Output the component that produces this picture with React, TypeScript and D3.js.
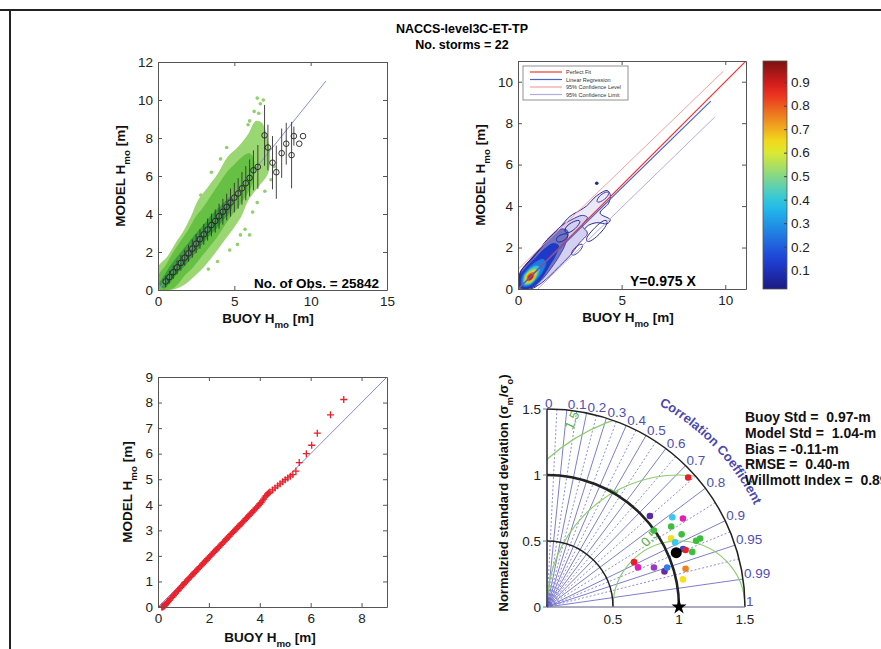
import React, { useEffect, useRef } from 'react';
import * as d3 from 'd3';

type Pt = [number, number];

const FONT = 'Liberation Sans, Arial, Helvetica, sans-serif';

// ---- figure text ----
const figTitle = 'NACCS-level3C-ET-TP';
const figSubtitle = 'No. storms = 22';

// ---- panel 1: scatter with bin means ----
const scatterTicksX = [0, 5, 10, 15];
const scatterTicksY = [0, 2, 4, 6, 8, 10, 12];
const obsCount = 25842;
const cloudOuter: Pt[] = [
  [0, 0], [0, 1.2], [0.6, 1.75], [1.25, 2.6], [1.7, 3.15], [2.15, 3.85], [2.6, 4.7], [3.25, 5.4],
  [3.9, 6.1], [4.55, 7.0], [5.2, 7.5], [5.9, 8.2], [6.4, 8.9], [6.8, 8.8], [7.2, 7.9], [7.35, 7.0],
  [7.2, 6.1], [6.55, 5.4], [5.9, 4.7], [5.45, 3.85], [5.0, 3.3], [4.35, 2.6], [3.7, 1.9], [3.0, 1.2],
  [2.35, 0.7], [1.7, 0.26], [1.0, 0.02],
];
const cloudMid: Pt[] = [
  [0.05, 0.05], [0.05, 0.8], [0.5, 1.3], [1, 2], [1.5, 2.6], [2, 3.2], [2.5, 3.9], [3, 4.4], [3.5, 5.0],
  [4, 5.6], [4.5, 6.2], [5, 6.6], [5.5, 7.0], [6, 7.2], [6.3, 6.8], [6.2, 5.6], [5.8, 5.0], [5.3, 4.4],
  [4.8, 3.9], [4.3, 3.3], [3.8, 2.7], [3.3, 2.2], [2.8, 1.7], [2.3, 1.2], [1.8, 0.8], [1.3, 0.3], [0.9, 0.05],
];
const cloudCore: Pt[] = [
  [0.1, 0.3], [0.5, 0.9], [1, 1.5], [1.5, 2.0], [2, 2.5], [2.5, 3.0], [3, 3.45], [3.5, 3.95], [4, 4.35],
  [4.5, 4.75], [4.8, 4.9], [4.8, 4.2], [4.3, 3.7], [3.8, 3.2], [3.3, 2.8], [2.8, 2.3], [2.3, 1.8],
  [1.8, 1.3], [1.3, 0.9], [0.8, 0.4], [0.4, 0.08],
];
const cloudStray: Pt[] = [
  [6.5, 10.1], [6.7, 9.8], [6.9, 10.0], [6.3, 9.4], [6.6, 9.3], [5.7, 3.2], [6.0, 2.9], [5.2, 2.4],
  [6.5, 4.6], [7.4, 5.8], [4.7, 2.1], [3.9, 1.5], [5.9, 8.7], [4.5, 7.5], [3.5, 6.2], [2.8, 5.0],
  [7.6, 6.5], [5.4, 2.9], [6.2, 4.1], [4.1, 6.9], [7.0, 5.2], [3.3, 1.1], [6.0, 8.9],
];
const binBuoy = [
  0.5, 0.75, 1.0, 1.25, 1.5, 1.75, 2.0, 2.25, 2.5, 2.75, 3.0, 3.25, 3.5, 3.75, 4.0, 4.25, 4.5, 4.75,
  5.0, 5.25, 5.5, 5.75, 6.0, 6.25, 6.54, 6.98, 7.2, 7.5, 7.75, 8.1, 8.4, 8.75, 8.9, 9.25, 9.5,
];
const binModel = [
  0.45, 0.68, 0.94, 1.19, 1.43, 1.7, 1.93, 2.18, 2.44, 2.68, 2.93, 3.18, 3.42, 3.63, 3.88, 4.12, 4.37, 4.6,
  4.86, 5.08, 5.35, 5.62, 5.9, 6.3, 6.48, 8.14, 7.5, 6.7, 6.2, 7.2, 7.7, 7.1, 8.1, 7.7, 8.1,
];
const binStd = [
  0.3, 0.33, 0.35, 0.37, 0.41, 0.42, 0.44, 0.48, 0.5, 0.51, 0.55, 0.58, 0.6, 0.61, 0.66, 0.68, 0.7, 0.74,
  0.78, 0.8, 0.86, 0.9, 0.97, 1.05, 1.15, 1.6, 1.2, 1.4, 1.4, 1.3, 1.1, 1.75, 0.5, 0, 0,
];

// ---- panel 2: density contours ----
const densTicksX = [0, 5, 10];
const densTicksY = [0, 2, 4, 6, 8, 10];
const densEnvelope: Pt[][] = [
  [[0.1, 0], [0.08, 0.4], [0.1, 0.77], [0.43, 1.25], [0.9, 1.73], [1.4, 2.38], [2.04, 3.0], [2.5, 3.5],
    [3.0, 3.8], [3.3, 4.0], [3.8, 4.5], [4.3, 4.75], [4.45, 4.55], [4.37, 4.14], [3.96, 3.66], [4.45, 3.34],
    [4.3, 3.15], [3.8, 3.2], [3.3, 3.0], [3.0, 2.38], [2.5, 1.73], [2.04, 1.25], [1.56, 0.77], [1.08, 0.29], [0.75, 0.05]],
  [[0.15, 0.1], [0.15, 0.85], [0.6, 1.35], [1.1, 1.95], [1.6, 2.55], [2.1, 3.05], [2.6, 3.35], [3.1, 3.55],
    [3.35, 3.45], [3.1, 3.05], [3.35, 2.7], [2.95, 2.2], [2.5, 1.6], [2.0, 1.1], [1.5, 0.6], [1.0, 0.2], [0.5, 0.04]],
];
const densIslands: Pt[][] = [
  [[3.35, 2.2], [3.8, 2.5], [4.25, 3.0], [4.35, 3.35], [4.05, 3.3], [3.6, 2.85], [3.25, 2.45]],
  [[3.75, 4.1], [4.2, 4.3], [4.45, 4.65], [4.25, 4.72], [3.85, 4.45]],
  [[2.3, 2.6], [2.8, 2.9], [3.1, 3.35], [2.7, 3.3], [2.2, 2.95]],
  [[2.6, 1.55], [3.0, 1.8], [3.2, 2.2], [2.9, 2.15], [2.55, 1.8]],
  [[1.9, 2.2], [2.3, 2.35], [2.5, 2.7], [2.1, 2.65], [1.8, 2.45]],
];
const densLevels = [0.06, 0.12, 0.25, 0.4, 0.55, 0.65, 0.78, 0.9];
const densFills: Pt[][] = [
  [[0.1, 0.05], [0.1, 0.8], [0.5, 1.3], [1.0, 1.9], [1.6, 2.55], [2.1, 2.9], [2.4, 2.8], [2.3, 2.2],
    [2.0, 1.6], [1.6, 1.0], [1.2, 0.5], [0.8, 0.15], [0.4, 0.02]],
  [[0.12, 0.08], [0.12, 0.65], [0.4, 1.05], [0.8, 1.45], [1.3, 1.95], [1.7, 2.2], [1.95, 2.1], [1.8, 1.6],
    [1.5, 1.1], [1.2, 0.6], [0.9, 0.25], [0.5, 0.04]],
  [[0.2, 0.15], [0.2, 0.6], [0.45, 0.95], [0.85, 1.3], [1.2, 1.45], [1.35, 1.25], [1.2, 0.85], [0.9, 0.45], [0.55, 0.15]],
  [[0.28, 0.22], [0.28, 0.6], [0.5, 0.9], [0.85, 1.12], [1.05, 1.05], [1.0, 0.75], [0.8, 0.42], [0.55, 0.22]],
  [[0.33, 0.28], [0.33, 0.6], [0.52, 0.85], [0.82, 0.98], [0.92, 0.85], [0.85, 0.58], [0.62, 0.3]],
  [[0.4, 0.35], [0.4, 0.6], [0.55, 0.8], [0.78, 0.88], [0.84, 0.7], [0.7, 0.45], [0.52, 0.34]],
  [[0.45, 0.4], [0.46, 0.62], [0.6, 0.76], [0.76, 0.78], [0.76, 0.6], [0.62, 0.43]],
  [[0.5, 0.45], [0.52, 0.62], [0.63, 0.7], [0.72, 0.67], [0.68, 0.52], [0.58, 0.45]],
];
const densStray: Pt[] = [[3.8, 5.1]];
const regSlope = 0.975;
const regEndX = 9.3;
const perfectFit: Pt[] = [[0, 0], [11, 11]];
const confUpper: Pt[] = [[0, 0.95], [9.9, 10.5]];
const confLower: Pt[] = [[0.95, 0], [9.5, 8.3]];
const legendLabels = ['Perfect Fit', 'Linear Regression', '95% Confidence Level', '95% Confidence Limit'];
const cbDomain = [0.02, 0.99];
const cbTicks = [0.1, 0.2, 0.3, 0.4, 0.5, 0.6, 0.7, 0.8, 0.9];

// ---- panel 3: quantile-quantile ----
const qqTicksX = [0, 2, 4, 6, 8];
const qqTicksY = [0, 1, 2, 3, 4, 5, 6, 7, 8, 9];
const qqPairs: Pt[] = [
  [0.15, 0.0], [0.18, 0.0], [0.2, 0.02], [0.23, 0.03], [0.25, 0.05], [0.28, 0.07], [0.3, 0.1], [0.33, 0.13],
  [0.35, 0.16], [0.38, 0.19], [0.4, 0.22], [0.45, 0.27], [0.5, 0.33], [0.55, 0.38], [0.6, 0.44], [0.65, 0.5],
  [0.7, 0.55], [0.75, 0.61], [0.8, 0.66], [0.85, 0.72], [0.9, 0.77], [0.95, 0.83], [1.0, 0.88], [1.05, 0.94],
  [1.1, 0.99], [1.15, 1.05], [1.2, 1.1], [1.25, 1.15], [1.3, 1.2], [1.35, 1.26], [1.4, 1.31], [1.45, 1.36],
  [1.5, 1.41], [1.55, 1.47], [1.6, 1.52], [1.65, 1.57], [1.7, 1.62], [1.75, 1.68], [1.8, 1.73], [1.85, 1.78],
  [1.9, 1.83], [1.95, 1.89], [2.0, 1.94], [2.05, 1.99], [2.1, 2.04], [2.15, 2.1], [2.2, 2.15], [2.25, 2.2],
  [2.3, 2.25], [2.35, 2.3], [2.4, 2.35], [2.45, 2.41], [2.5, 2.46], [2.55, 2.51], [2.6, 2.56], [2.65, 2.62],
  [2.7, 2.67], [2.75, 2.72], [2.8, 2.77], [2.85, 2.83], [2.9, 2.88], [2.95, 2.93], [3.0, 2.98], [3.05, 3.03],
  [3.1, 3.08], [3.15, 3.14], [3.2, 3.19], [3.25, 3.24], [3.3, 3.29], [3.35, 3.34], [3.4, 3.39], [3.45, 3.45],
  [3.5, 3.5], [3.55, 3.55], [3.6, 3.6], [3.65, 3.66], [3.7, 3.71], [3.75, 3.76], [3.8, 3.81], [3.85, 3.87],
  [3.9, 3.92], [3.95, 3.97], [4.0, 4.03], [4.05, 4.09], [4.1, 4.15], [4.15, 4.22], [4.2, 4.3], [4.25, 4.36],
  [4.3, 4.42], [4.35, 4.46], [4.4, 4.5], [4.5, 4.58], [4.6, 4.66], [4.7, 4.74], [4.8, 4.82], [4.9, 4.9],
  [5.0, 4.98], [5.1, 5.05], [5.2, 5.12], [5.3, 5.18], [5.42, 5.32], [5.55, 5.65], [5.83, 6.0], [6.04, 6.33],
  [6.26, 6.8], [6.78, 7.52], [7.3, 8.12],
];

// ---- panel 4: Taylor diagram ----
const stationStd = [
  1.451, 1.041, 1.168, 1.229, 1.121, 0.996, 1.159, 1.271, 1.236, 1.074, 1.087, 1.12, 1.135, 1.177,
  0.742, 0.752, 0.864, 0.93, 0.958, 1.089, 1.051,
];
const stationCorr = [
  0.737, 0.749, 0.813, 0.838, 0.839, 0.813, 0.88, 0.913, 0.914, 0.875, 0.893, 0.92, 0.925, 0.935,
  0.889, 0.917, 0.938, 0.957, 0.95, 0.964, 0.98,
];
const stationColors = [
  '#e8202a', '#5a2aa0', '#38c8f0', '#e020b0', '#3cbf3c', '#3cbf3c', '#3cbf3c', '#3cbf3c', '#3cbf3c',
  '#f0e020', '#38c8f0', '#2050e0', '#e8202a', '#3cbf3c', '#e8202a', '#e020b0', '#9a3ac0', '#6a2aa0',
  '#2f7fe8', '#f08020', '#f8e020',
];
const allStd = 1.062;
const allCorr = 0.922;
const corrLabels = [0, 0.1, 0.2, 0.3, 0.4, 0.5, 0.6, 0.7, 0.8, 0.9, 0.95, 0.99, 1];
const corrMinor = [0.05, 0.15, 0.25, 0.35, 0.45, 0.55, 0.65, 0.75, 0.85, 0.925, 0.97];
const stdArcs = [0.5, 1, 1.5];
const rmsArcs = [0.5, 1, 1.5];
const taylorTicks = [0, 0.5, 1, 1.5];
const statsLines = [
  'Buoy Std =  0.97-m',
  'Model Std =  1.04-m',
  'Bias = -0.11-m',
  'RMSE =  0.40-m',
  'Willmott Index =  0.89',
];

const jet = d3
  .scaleLinear<string>()
  .domain([0, 0.125, 0.375, 0.625, 0.875, 1])
  .range(['#1c1a80', '#1f3ed8', '#22c4ec', '#f2ec1c', '#ea2020', '#7c1212']);
const cbColor = (v: number) => jet((v - cbDomain[0]) / (cbDomain[1] - cbDomain[0]));

function drawBox(g: any, x: any, y: any, xt: number[], yt: number[]) {
  const [x0, x1] = x.range();
  const [y1, y0] = y.range();
  const ax = g.append('g');
  ax.append('g').attr('transform', `translate(0,${y1})`)
    .call(d3.axisBottom(x).tickValues(xt).tickSizeInner(-4).tickSizeOuter(0).tickPadding(6).tickFormat(d3.format('d')));
  ax.append('g').attr('transform', `translate(0,${y0})`)
    .call(d3.axisTop(x).tickValues(xt).tickSizeInner(-4).tickSizeOuter(0))
    .selectAll('text').remove();
  ax.append('g').attr('transform', `translate(${x0},0)`)
    .call(d3.axisLeft(y).tickValues(yt).tickSizeInner(-4).tickSizeOuter(0).tickPadding(5).tickFormat(d3.format('d')));
  ax.append('g').attr('transform', `translate(${x1},0)`)
    .call(d3.axisRight(y).tickValues(yt).tickSizeInner(-4).tickSizeOuter(0))
    .selectAll('text').remove();
  ax.selectAll('.domain').attr('stroke', '#555');
  ax.selectAll('.tick line').attr('stroke', '#555');
  ax.selectAll('text').attr('font-size', 13.5).attr('fill', '#222').attr('font-family', FONT);
}

// parts: [text, isSubscript]
function label(g: any, x: number, y: number, rot: number, parts: [string, boolean][], size = 13.5) {
  const t = g.append('text')
    .attr('transform', `translate(${x},${y}) rotate(${rot})`)
    .attr('text-anchor', 'middle')
    .attr('font-weight', 'bold')
    .attr('font-size', size)
    .attr('font-family', FONT)
    .attr('fill', '#111');
  let down = false;
  parts.forEach(([s, sub]) => {
    const sp = t.append('tspan').text(s);
    if (sub && !down) { sp.attr('dy', size * 0.35).attr('font-size', size * 0.72); down = true; }
    else if (!sub && down) { sp.attr('dy', -size * 0.35); down = false; }
    else if (sub) sp.attr('font-size', size * 0.72);
  });
}

const hmoLabel = (pre: string): [string, boolean][] => [[pre + ' H', false], ['mo', true], [' [m]', false]];

const App = () => {
  const ref = useRef<SVGSVGElement>(null);

  useEffect(() => {
    const svg = d3.select(ref.current);
    svg.selectAll('*').remove();
    const defs = svg.append('defs');

    // frame of the scanned page
    svg.append('line').attr('x1', 0).attr('x2', 881).attr('y1', 10).attr('y2', 10).attr('stroke', '#222').attr('stroke-width', 2);
    svg.append('line').attr('x1', 10).attr('x2', 10).attr('y1', 10).attr('y2', 649).attr('stroke', '#222').attr('stroke-width', 2);

    svg.append('text').attr('x', 462).attr('y', 33).attr('text-anchor', 'middle').attr('font-family', FONT)
      .attr('font-weight', 'bold').attr('font-size', 12.5).text(figTitle);
    svg.append('text').attr('x', 462).attr('y', 49).attr('text-anchor', 'middle').attr('font-family', FONT)
      .attr('font-weight', 'bold').attr('font-size', 12.5).text(figSubtitle);

    // ---------- panel 1 ----------
    {
      const x = d3.scaleLinear().domain([0, 15]).range([158, 387]);
      const y = d3.scaleLinear().domain([0, 12]).range([290, 62]);
      const g = svg.append('g');
      defs.append('clipPath').attr('id', 'clip1').append('rect').attr('x', 158).attr('y', 62).attr('width', 229).attr('height', 228);
      const area = g.append('g').attr('clip-path', 'url(#clip1)');
      const blob = d3.line<Pt>().x((d) => x(d[0])).y((d) => y(d[1])).curve(d3.curveCatmullRomClosed.alpha(0.5));
      area.selectAll('.stray').data(cloudStray).enter().append('circle')
        .attr('cx', (d) => x(d[0])).attr('cy', (d) => y(d[1])).attr('r', 1.8).attr('fill', '#8fd16a');
      area.append('path').attr('d', blob(cloudOuter)).attr('fill', '#9ad672');
      area.append('path').attr('d', blob(cloudMid)).attr('fill', '#66c043');
      area.append('path').attr('d', blob(cloudCore)).attr('fill', '#3b9c3a');
      area.append('line').attr('x1', x(0)).attr('y1', y(0)).attr('x2', x(11)).attr('y2', y(11))
        .attr('stroke', '#8c8cd8').attr('stroke-width', 1);
      const bins = binBuoy.map((b, i) => ({ b, m: binModel[i], s: binStd[i] }));
      area.selectAll('.err').data(bins).enter().append('line')
        .attr('x1', (d) => x(d.b)).attr('x2', (d) => x(d.b))
        .attr('y1', (d) => y(d.m - d.s)).attr('y2', (d) => y(d.m + d.s))
        .attr('stroke', '#333').attr('stroke-width', 0.9);
      area.selectAll('.bin').data(bins).enter().append('circle')
        .attr('cx', (d) => x(d.b)).attr('cy', (d) => y(d.m)).attr('r', 2.8)
        .attr('fill', 'none').attr('stroke', '#222').attr('stroke-width', 0.9);
      drawBox(g, x, y, scatterTicksX, scatterTicksY);
      g.append('text').attr('x', 379).attr('y', 288).attr('text-anchor', 'end').attr('font-family', FONT)
        .attr('font-weight', 'bold').attr('font-size', 13.5).text(`No. of Obs. = ${obsCount}`);
      label(g, 125, 176, -90, hmoLabel('MODEL'));
      label(g, 268, 323, 0, hmoLabel('BUOY'));
    }

    // ---------- panel 2 ----------
    {
      const x = d3.scaleLinear().domain([0, 11]).range([518, 746]);
      const y = d3.scaleLinear().domain([0, 11]).range([289, 61]);
      const g = svg.append('g');
      defs.append('clipPath').attr('id', 'clip2').append('rect').attr('x', 518).attr('y', 61).attr('width', 228).attr('height', 228);
      const area = g.append('g').attr('clip-path', 'url(#clip2)');
      const blob = d3.line<Pt>().x((d) => x(d[0])).y((d) => y(d[1])).curve(d3.curveCatmullRomClosed.alpha(0.5));
      const loop = d3.line<Pt>().x((d) => x(d[0])).y((d) => y(d[1])).curve(d3.curveBasisClosed);
      const seg = d3.line<Pt>().x((d) => x(d[0])).y((d) => y(d[1]));
      const envFill = ['#ebe9f8', '#d3d0f0'];
      const envStroke = ['#2c2a92', '#4a36a8'];
      densEnvelope.forEach((poly, i) => {
        area.append('path').attr('d', blob(poly)).attr('fill', envFill[i])
          .attr('stroke', envStroke[i]).attr('stroke-width', 1);
      });
      densIslands.forEach((poly, i) => {
        area.append('path').attr('d', loop(poly)).attr('fill', 'none')
          .attr('stroke', i % 2 ? '#4a36a8' : '#2c2a92').attr('stroke-width', 1);
      });
      densFills.forEach((poly, i) => {
        area.append('path').attr('d', blob(poly)).attr('fill', cbColor(densLevels[i]))
          .attr('fill-opacity', i === 0 ? 0.55 : 1)
          .attr('stroke', d3.color(cbColor(densLevels[i]))!.darker(0.4).toString()).attr('stroke-width', 0.6);
      });
      area.selectAll('.ds').data(densStray).enter().append('circle')
        .attr('cx', (d) => x(d[0])).attr('cy', (d) => y(d[1])).attr('r', 1.8).attr('fill', '#2c2a92');
      area.append('path').attr('d', seg(confUpper)).attr('stroke', '#f2a2a2').attr('fill', 'none');
      area.append('path').attr('d', seg(confLower)).attr('stroke', '#b4aae2').attr('fill', 'none');
      area.append('path').attr('d', seg(perfectFit)).attr('stroke', '#ee3434').attr('stroke-width', 1.2).attr('fill', 'none');
      area.append('path').attr('d', seg([[0, 0], [regEndX, regSlope * regEndX]])).attr('stroke', '#4a62cc')
        .attr('stroke-width', 1.2).attr('fill', 'none');
      drawBox(g, x, y, densTicksX, densTicksY);

      // legend
      const lg = g.append('g');
      lg.append('rect').attr('x', 523).attr('y', 66).attr('width', 105).attr('height', 34)
        .attr('fill', '#fff').attr('stroke', '#777').attr('stroke-width', 0.8);
      const legColors = ['#ee3434', '#4a62cc', '#f2a2a2', '#b4aae2'];
      legendLabels.forEach((s, i) => {
        const ly = 72 + i * 7.5;
        lg.append('line').attr('x1', 530).attr('x2', 562).attr('y1', ly).attr('y2', ly).attr('stroke', legColors[i]).attr('stroke-width', 1.2);
        lg.append('text').attr('x', 566).attr('y', ly + 2).attr('font-size', 5.5).attr('font-family', FONT).attr('fill', '#333').text(s);
      });

      g.append('text').attr('x', 630).attr('y', 286).attr('font-family', FONT)
        .attr('font-weight', 'bold').attr('font-size', 14).text(`Y=${regSlope} X`);
      label(g, 485, 175, -90, hmoLabel('MODEL'));
      label(g, 628, 322, 0, hmoLabel('BUOY'));

      // colorbar
      const cy = d3.scaleLinear().domain(cbDomain).range([289, 61]);
      const grad = defs.append('linearGradient').attr('id', 'jetgrad').attr('x1', 0).attr('x2', 0).attr('y1', 1).attr('y2', 0);
      d3.range(0, 1.0001, 0.05).forEach((t) => {
        grad.append('stop').attr('offset', t).attr('stop-color', jet(t));
      });
      g.append('rect').attr('x', 763).attr('y', 61).attr('width', 24).attr('height', 228)
        .attr('fill', 'url(#jetgrad)').attr('stroke', '#555').attr('stroke-width', 0.8);
      const cax = g.append('g').attr('transform', 'translate(787,0)')
        .call(d3.axisRight(cy).tickValues(cbTicks).tickSizeInner(-3).tickSizeOuter(0).tickPadding(4).tickFormat(d3.format('.1f')));
      cax.select('.domain').remove();
      cax.selectAll('.tick line').attr('stroke', '#444');
      cax.selectAll('text').attr('font-size', 13.5).attr('fill', '#222').attr('font-family', FONT);
    }

    // ---------- panel 3 ----------
    {
      const x = d3.scaleLinear().domain([0, 9]).range([158, 387]);
      const y = d3.scaleLinear().domain([0, 9]).range([607, 377]);
      const g = svg.append('g');
      defs.append('clipPath').attr('id', 'clip3').append('rect').attr('x', 154).attr('y', 377).attr('width', 233).attr('height', 234);
      const area = g.append('g').attr('clip-path', 'url(#clip3)');
      area.append('line').attr('x1', x(0)).attr('y1', y(0)).attr('x2', x(9)).attr('y2', y(9))
        .attr('stroke', '#8888d6').attr('stroke-width', 1);
      area.selectAll('.qq').data(qqPairs).enter().append('path')
        .attr('d', (d) => `M${x(d[0]) - 3.5},${y(d[1])}h7M${x(d[0])},${y(d[1]) - 3.5}v7`)
        .attr('stroke', '#e8202a').attr('stroke-width', 1.3);
      drawBox(g, x, y, qqTicksX, qqTicksY);
      label(g, 132, 492, -90, hmoLabel('MODEL'));
      label(g, 270, 642, 0, hmoLabel('BUOY'));
    }

    // ---------- panel 4: Taylor diagram ----------
    {
      const ox = 547, oy = 607;
      const r = d3.scaleLinear().domain([0, 1.5]).range([0, 198]);
      const px = (s: number, c: number) => ox + r(s) * c;
      const py = (s: number, c: number) => oy - r(s) * Math.sqrt(Math.max(0, 1 - c * c));
      const g = svg.append('g');
      const lineCol = '#5e5cc0';

      corrMinor.forEach((c) => {
        g.append('line').attr('x1', ox).attr('y1', oy).attr('x2', px(1.5, c)).attr('y2', py(1.5, c))
          .attr('stroke', lineCol).attr('stroke-width', 0.7).attr('stroke-dasharray', '2,2');
      });
      corrLabels.forEach((c) => {
        g.append('line').attr('x1', ox).attr('y1', oy).attr('x2', px(1.5, c)).attr('y2', py(1.5, c))
          .attr('stroke', lineCol).attr('stroke-width', 0.8);
        g.append('text').attr('x', px(1.5, c) + (c === 0 ? -2 : 1)).attr('y', py(1.5, c) - 1)
          .attr('font-family', FONT).attr('font-size', 13.5).attr('fill', '#5050b4')
          .text(String(c));
      });

      // RMS arcs, clipped to the quarter disc
      defs.append('clipPath').attr('id', 'clipTaylor').append('path')
        .attr('d', `M${ox},${oy}L${ox + r(1.5)},${oy}A${r(1.5)},${r(1.5)} 0 0 0 ${ox},${oy - r(1.5)}Z`);
      const rms = g.append('g').attr('clip-path', 'url(#clipTaylor)');
      const cx = ox + r(1);
      rmsArcs.forEach((R) => {
        rms.append('path').attr('d', `M${cx - r(R)},${oy}A${r(R)},${r(R)} 0 0 1 ${cx + r(R)},${oy}`)
          .attr('fill', 'none').attr('stroke', '#8ccc6c').attr('stroke-width', 1.2);
      });
      const rmsLabelPos: [number, number, number][] = [[0.8, 0.5, -45], [0.53, 0.86, -60], [0.22, 1.4, -65]];
      rmsArcs.forEach((R, i) => {
        const [lx, ly, rot] = rmsLabelPos[i];
        g.append('text').attr('transform', `translate(${ox + r(lx)},${oy - r(ly)}) rotate(${rot})`)
          .attr('text-anchor', 'middle').attr('font-family', FONT).attr('font-size', 13).attr('fill', '#5cb04a')
          .text(String(R));
      });

      stdArcs.forEach((s) => {
        g.append('path').attr('d', `M${ox},${oy - r(s)}A${r(s)},${r(s)} 0 0 1 ${ox + r(s)},${oy}`)
          .attr('fill', 'none').attr('stroke', '#222').attr('stroke-width', s === 1 ? 2.6 : 1.5);
      });
      g.append('line').attr('x1', ox).attr('y1', oy).attr('x2', ox + r(1.5)).attr('y2', oy).attr('stroke', '#999');
      g.append('line').attr('x1', ox).attr('y1', oy).attr('x2', ox).attr('y2', oy - r(1.5)).attr('stroke', '#222').attr('stroke-width', 1.3);

      taylorTicks.forEach((t) => {
        g.append('line').attr('x1', ox - 4).attr('x2', ox).attr('y1', oy - r(t)).attr('y2', oy - r(t)).attr('stroke', '#777');
        g.append('text').attr('x', ox - 6).attr('y', oy - r(t)).attr('dy', '0.35em').attr('text-anchor', 'end')
          .attr('font-family', FONT).attr('font-size', 13.5).attr('fill', '#222').text(String(t));
        if (t > 0) {
          g.append('text').attr('x', ox + r(t)).attr('y', oy + 17).attr('text-anchor', 'middle')
            .attr('font-family', FONT).attr('font-size', 13.5).attr('fill', '#222').text(String(t));
        }
      });

      // curved axis title
      const rt = r(1.75);
      const a0 = (61 * Math.PI) / 180, a1 = (18 * Math.PI) / 180;
      defs.append('path').attr('id', 'corrArc')
        .attr('d', `M${ox + rt * Math.cos(a0)},${oy - rt * Math.sin(a0)}A${rt},${rt} 0 0 1 ${ox + rt * Math.cos(a1)},${oy - rt * Math.sin(a1)}`);
      g.append('text').attr('font-family', FONT).attr('font-weight', 'bold').attr('font-size', 13).attr('fill', '#4a48ac')
        .append('textPath').attr('href', '#corrArc').text('Correlation Coefficient');

      stationStd.forEach((s, i) => {
        g.append('circle').attr('cx', px(s, stationCorr[i])).attr('cy', py(s, stationCorr[i])).attr('r', 3.3)
          .attr('fill', stationColors[i]);
      });
      g.append('circle').attr('cx', px(allStd, allCorr)).attr('cy', py(allStd, allCorr)).attr('r', 5.5).attr('fill', '#000');
      g.append('path').attr('d', d3.symbol(d3.symbolStar, 70)()!).attr('transform', `translate(${px(1, 1)},${oy})`).attr('fill', '#000');

      label(g, 508, 493, -90, [['Normalzied standard deviation (σ', false], ['m', true], ['/σ', false], ['o', true], [')', false]], 13);

      statsLines.forEach((s, i) => {
        g.append('text').attr('x', 745).attr('y', 422 + i * 15.8).attr('font-family', FONT)
          .attr('font-weight', 'bold').attr('font-size', 14).attr('fill', '#111')
          .style('white-space', 'pre').text(s);
      });
    }
  }, []);

  return <svg ref={ref} width={881} height={649} style={{ position: 'absolute', left: 0, top: 0, background: '#fff' }}></svg>;
};

export default App;
